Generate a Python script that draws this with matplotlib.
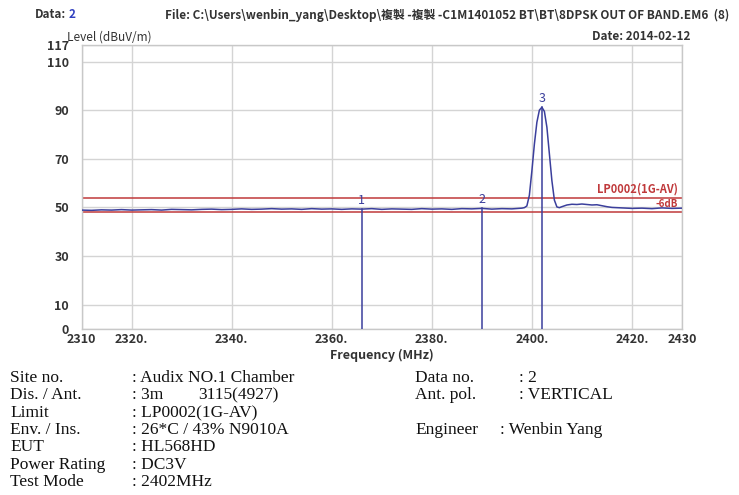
import re
import matplotlib
matplotlib.use("Agg")
import matplotlib.pyplot as plt

# spectrum trace (MHz, dBuV/m)
freq = [2310, 2312, 2314, 2316, 2318, 2320, 2322, 2324, 2326, 2328,
        2330, 2332, 2334, 2336, 2338, 2340, 2342, 2344, 2346, 2348,
        2350, 2352, 2354, 2356, 2358, 2360, 2362, 2364, 2366, 2368,
        2370, 2372, 2374, 2376, 2378, 2380, 2382, 2384, 2386, 2388,
        2390, 2392, 2394, 2396, 2398, 2398.5, 2399, 2399.5, 2400, 2400.5,
        2401, 2401.5, 2402, 2402.5, 2403, 2403.5, 2404, 2404.5, 2405, 2405.5,
        2406, 2407, 2408, 2409, 2410, 2411, 2412, 2413, 2414, 2415,
        2416, 2418, 2420, 2422, 2424, 2426, 2428, 2430]
level = [48.9, 48.8, 49.0, 48.9, 49.1, 48.9, 49.0, 49.1, 48.9, 49.2,
         49.1, 49.0, 49.2, 49.3, 49.1, 49.2, 49.4, 49.2, 49.3, 49.5,
         49.3, 49.4, 49.2, 49.5, 49.3, 49.4, 49.2, 49.4, 49.3, 49.5,
         49.2, 49.4, 49.3, 49.2, 49.5, 49.3, 49.4, 49.2, 49.5, 49.4,
         49.6, 49.3, 49.5, 49.4, 49.7, 49.9, 50.6, 55.0, 65.0, 76.0,
         85.0, 90.0, 91.2, 89.5, 83.0, 72.0, 61.0, 53.0, 50.2, 49.9,
         50.3, 51.0, 51.3, 51.2, 51.4, 51.2, 51.0, 51.1, 50.7, 50.3,
         50.0, 49.8, 49.6, 49.7, 49.5, 49.8, 49.6, 49.7]

# markers
marker_id = ["1", "2", "3"]
marker_freq = [2366, 2390, 2402]
marker_level = [49.3, 49.6, 91.2]

limit_level = 54
margin_level = 48

x_ticks = [2310, 2320, 2340, 2360, 2380, 2400, 2420, 2430]
x_labels = ["2310", "2320.", "2340.", "2360.", "2380.", "2400.", "2420.", "2430"]
y_ticks = [0, 10, 30, 50, 70, 90, 110, 117]
y_labels = ["0", "10", "30", "50", "70", "90", "110", "117"]

# test info, laid out on a fixed character grid
info_lines = [
    "Site no.     : Audix NO.1 Chamber          Data no.   : 2",
    "Dis. / Ant.  : 3m   3115(4927)             Ant. pol.  : VERTICAL",
    "Limit        : LP0002(1G-AV)",
    "Env. / Ins.  : 26*C / 43% N9010A           Engineer : Wenbin Yang",
    "EUT          : HL568HD",
    "Power Rating : DC3V",
    "Test Mode    : 2402MHz",
]

narrow = ["Liberation Sans Narrow", "Noto Sans CJK TC", "DejaVu Sans"]
serif = ["Liberation Serif", "DejaVu Serif"]

W, H = 739, 495
fig = plt.figure(figsize=(W / 100, H / 100), dpi=100)
ax = fig.add_axes([81.5 / W, 1 - 329 / H, 600.5 / W, 284.5 / H])

blue = "#3b3f9c"
red = "#c0393b"
ink = "#333333"

ax.plot(freq, level, color=blue, lw=1.1, zorder=3)
ax.axhline(limit_level, color=red, lw=1.1, zorder=2)
ax.axhline(margin_level, color=red, lw=1.1, zorder=2)

for mid, mf, ml in zip(marker_id, marker_freq, marker_level):
    ax.plot([mf, mf], [0, ml], color=blue, lw=1.1, zorder=3)
    ax.text(mf, ml + 1.0, mid, color=blue, ha="center", va="bottom",
            fontsize=9, family=narrow)

ax.text(2429.2, limit_level + 0.8, "LP0002(1G-AV)", color=red, ha="right",
        va="bottom", fontsize=8, family=narrow, fontweight="bold")
ax.text(2429.2, margin_level + 1.2, "-6dB", color=red, ha="right",
        va="bottom", fontsize=7, family=narrow, fontweight="bold", style="italic")

ax.set_xlim(2310, 2430)
ax.set_ylim(0, 117)
ax.set_xticks(x_ticks)
ax.set_xticklabels(x_labels)
ax.set_yticks(y_ticks)
ax.set_yticklabels(y_labels)
ax.tick_params(length=0, labelsize=9, colors=ink)
ax.tick_params(axis="x", pad=3)
ax.tick_params(axis="y", pad=9)
for lab in ax.get_xticklabels() + ax.get_yticklabels():
    lab.set_family(narrow)
    lab.set_fontweight("bold")
ax.grid(True, color="#d4d4d4", lw=1.0)
ax.set_axisbelow(True)
for s in ax.spines.values():
    s.set_color("#c8c8c8")
    s.set_linewidth(1.0)

ax.set_xlabel("Frequency (MHz)", fontsize=9, family=narrow, fontweight="bold",
              color=ink, labelpad=2)


def px(x, y):
    return x / W, 1 - y / H


# header
fig.text(*px(35, 15), "Data:", fontsize=8.5, family=narrow, fontweight="bold",
         color=ink, va="center")
fig.text(*px(69, 15), "2", fontsize=8.5, family=narrow, fontweight="bold",
         color="#3040c0", va="center")
fig.text(*px(165, 15),
         "File: C:\\Users\\wenbin_yang\\Desktop\\複製 -複製 -C1M1401052 BT\\BT\\8DPSK OUT OF BAND.EM6  (8)",
         fontsize=8.5, family=narrow, fontweight="bold", color=ink, va="center")
fig.text(*px(690, 36), "Date: 2014-02-12", fontsize=8.5, family=narrow,
         fontweight="bold", color=ink, va="center", ha="right")
fig.text(*px(67, 37), "Level (dBuV/m)", fontsize=8.5, family=narrow,
         color=ink, va="center")

# info block: labels, ": value" parts and spaced-out runs each start at their grid column
col_w = 9.42
row_y = [378, 395, 413, 430, 447, 465, 482]
run = re.compile(r":(?: \S+)+|[^\s:]+(?: [^\s:]+)*")
for line, y in zip(info_lines, row_y):
    for m in run.finditer(line):
        fig.text(*px(10 + m.start() * col_w, y), m.group(), fontsize=12.5,
                 family=serif, va="center", color="#111111")

fig.savefig("out.png", dpi=100)
